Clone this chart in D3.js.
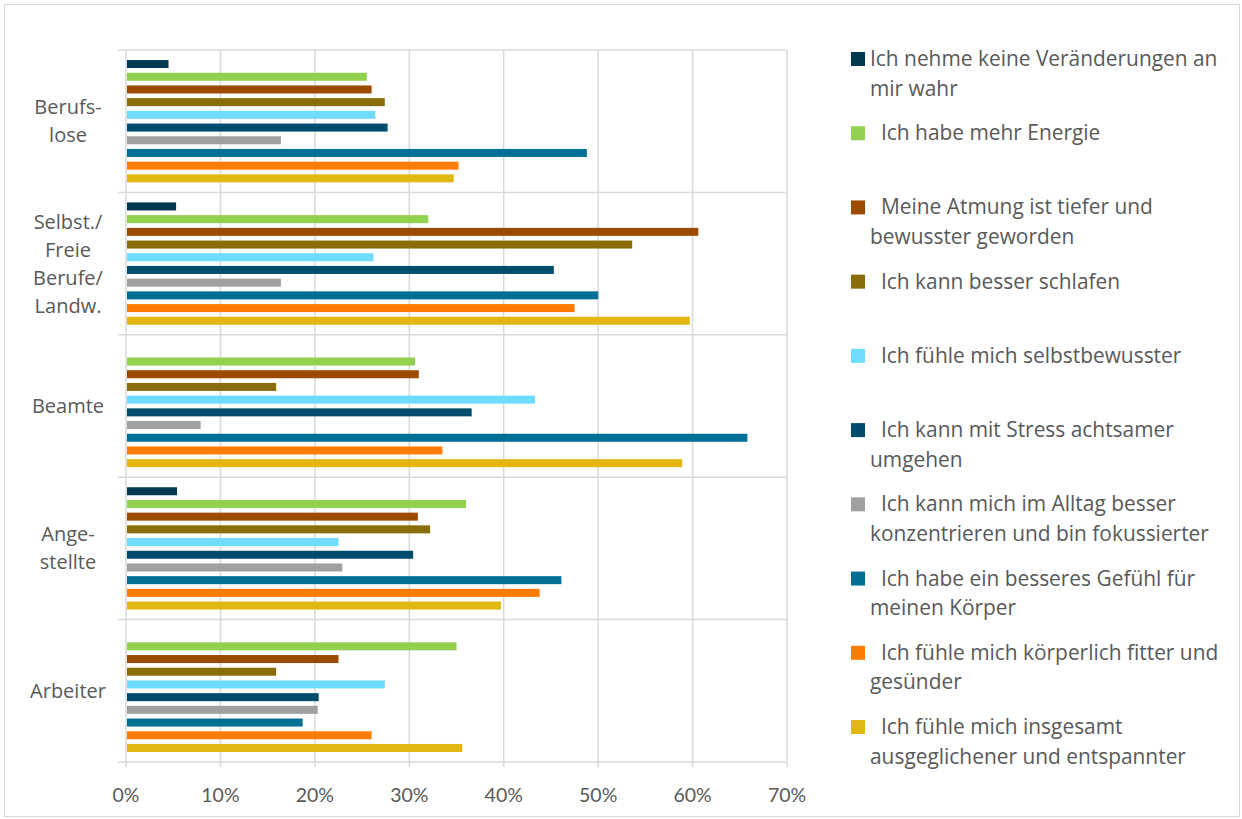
<!DOCTYPE html>
<html>
<head>
<meta charset="utf-8">
<script src="https://cdn.jsdelivr.net/npm/d3@7"></script>
<style>
  html, body { margin: 0; padding: 0; background: #fff; }
  svg { display: block; }
  text { font-family: "Open Sans", Lato, sans-serif; fill: #595959; }
  text.tick { font-family: Lato, sans-serif; }
</style>
</head>
<body>
<svg id="chart" width="1242" height="819"></svg>
<script>
// ---- data ----
const categories = ["Berufslose", "Selbst./Freie Berufe/Landw.", "Beamte", "Angestellte", "Arbeiter"];
const categoryLines = [["Berufs-", "lose"], ["Selbst./", "Freie", "Berufe/", "Landw."], ["Beamte"], ["Ange-", "stellte"], ["Arbeiter"]];

const seriesNames = [
  "Ich nehme keine Veränderungen an mir wahr",
  "Ich habe mehr Energie",
  "Meine Atmung ist tiefer und bewusster geworden",
  "Ich kann besser schlafen",
  "Ich fühle mich selbstbewusster",
  "Ich kann mit Stress achtsamer umgehen",
  "Ich kann mich im Alltag besser konzentrieren und bin fokussierter",
  "Ich habe ein besseres Gefühl für meinen Körper",
  "Ich fühle mich körperlich fitter und gesünder",
  "Ich fühle mich insgesamt ausgeglichener und entspannter"
];
const legendLines = [
  ["Ich nehme keine Veränderungen an", "mir wahr"],
  ["Ich habe mehr Energie"],
  ["Meine Atmung ist tiefer und", "bewusster geworden"],
  ["Ich kann besser schlafen"],
  ["Ich fühle mich selbstbewusster"],
  ["Ich kann mit Stress achtsamer", "umgehen"],
  ["Ich kann mich im Alltag besser", "konzentrieren und bin fokussierter"],
  ["Ich habe ein besseres Gefühl für", "meinen Körper"],
  ["Ich fühle mich körperlich fitter und", "gesünder"],
  ["Ich fühle mich insgesamt", "ausgeglichener und entspannter"]
];
const seriesColors = ["#00384d", "#92d050", "#9c4a00", "#886d08", "#6ddcff", "#004c6c", "#a0a0a0", "#006f94", "#ff7c00", "#e2b711"];

// values in % per category (order of categories)
const keineVeraenderung = [4.4, 5.2, 0, 5.3, 0];
const mehrEnergie       = [25.4, 31.9, 30.5, 35.9, 34.9];
const atmung            = [25.9, 60.5, 30.9, 30.8, 22.4];
const schlafen          = [27.3, 53.5, 15.8, 32.1, 15.8];
const selbstbewusst     = [26.3, 26.1, 43.2, 22.4, 27.3];
const stress            = [27.6, 45.2, 36.5, 30.3, 20.3];
const konzentration     = [16.3, 16.3, 7.8, 22.8, 20.2];
const koerpergefuehl    = [48.7, 49.9, 65.7, 46.0, 18.6];
const fitter            = [35.1, 47.4, 33.4, 43.7, 25.9];
const ausgeglichen      = [34.6, 59.6, 58.8, 39.6, 35.5];
const seriesValues = [keineVeraenderung, mehrEnergie, atmung, schlafen, selbstbewusst, stress, konzentration, koerpergefuehl, fitter, ausgeglichen];

const xTicks = [0, 10, 20, 30, 40, 50, 60, 70];
const xTickLabels = ["0%", "10%", "20%", "30%", "40%", "50%", "60%", "70%"];

// ---- layout ----
const svg = d3.select("#chart");
const plot = { left: 126, right: 787, top: 50, bottom: 762 };

// chart border
svg.append("rect").attr("x", 4.5).attr("y", 4.5).attr("width", 1235).attr("height", 812)
  .attr("fill", "none").attr("stroke", "#d9d9d9").attr("stroke-width", 1);

const x = d3.scaleLinear().domain([0, 70]).range([plot.left, plot.right]);
const y0 = d3.scaleBand().domain(categories).range([plot.top, plot.bottom]).padding(0);
const y1 = d3.scaleBand().domain(seriesNames).range([0, y0.bandwidth()]).paddingInner(0.37).paddingOuter(0.79);

// vertical gridlines
svg.append("g").selectAll("line").data(xTicks).join("line")
  .attr("x1", d => x(d)).attr("x2", d => x(d))
  .attr("y1", plot.top).attr("y2", plot.bottom + 5)
  .attr("stroke", "#d9d9d9").attr("stroke-width", 1.5);

// category separators (horizontal)
const bounds = categories.map(c => y0(c)).concat([plot.bottom]);
svg.append("g").selectAll("line").data(bounds).join("line")
  .attr("x1", plot.left - 8).attr("x2", plot.right)
  .attr("y1", d => d).attr("y2", d => d)
  .attr("stroke", "#d9d9d9").attr("stroke-width", 1.5);

// bars
const groups = svg.append("g").selectAll("g").data(categories).join("g")
  .attr("transform", c => `translate(0,${y0(c)})`);
groups.selectAll("rect").data((c, ci) => seriesNames.map((s, si) => ({ s, si, v: seriesValues[si][ci] })))
  .join("rect")
  .filter(d => d.v > 0)
  .attr("x", x(0) + 1)
  .attr("y", d => y1(d.s))
  .attr("width", d => x(d.v) - x(0))
  .attr("height", y1.bandwidth())
  .attr("fill", d => seriesColors[d.si]);

// category labels
const lh = 28;
svg.append("g").selectAll("text").data(categories).join("text")
  .attr("text-anchor", "middle")
  .attr("font-size", 20)
  .each(function(c, i) {
    const lines = categoryLines[i];
    const cy = y0(c) + y0.bandwidth() / 2;
    const startY = cy - (lines.length - 1) * lh / 2 + 7;
    d3.select(this).selectAll("tspan").data(lines).join("tspan")
      .attr("x", 68).attr("y", (d, k) => startY + k * lh).text(d => d);
  });

// x tick labels
svg.append("g").selectAll("text").data(xTicks).join("text")
  .attr("class", "tick")
  .attr("x", d => x(d)).attr("y", 802)
  .attr("text-anchor", "middle").attr("font-size", 19.5)
  .text((d, i) => xTickLabels[i]);

// legend
const legend = svg.append("g");
const legY = d3.scaleLinear().domain([0, seriesNames.length - 1]).range([59, 727]);
seriesNames.forEach((s, i) => {
  const cy = legY(i);
  legend.append("rect").attr("x", 851).attr("y", cy - 7).attr("width", 14).attr("height", 14)
    .attr("fill", seriesColors[i]);
  const t = legend.append("text").attr("font-size", 20.9);
  legendLines[i].forEach((ln, k) => {
    t.append("tspan").attr("x", (k === 0 && i > 0) ? 881 : 870).attr("y", cy + 7 + k * 29.5).text(ln);
  });
});
</script>
</body>
</html>
